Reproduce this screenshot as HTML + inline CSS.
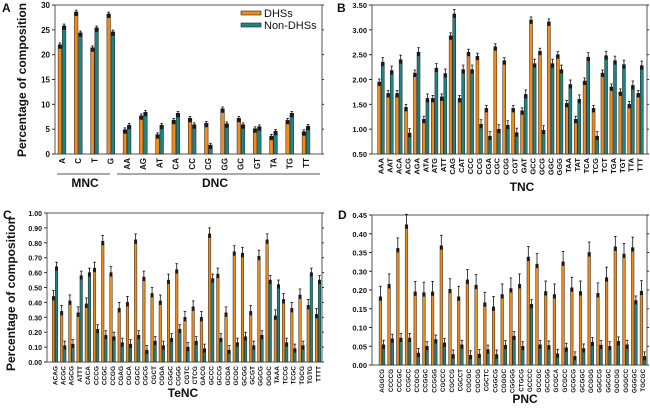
<!DOCTYPE html>
<html><head><meta charset="utf-8"><style>
html,body{margin:0;padding:0;background:#fff;}
svg{display:block;font-family:"Liberation Sans",Arial,sans-serif;}
</style></head><body>
<svg id="fig" width="650" height="412" viewBox="0 0 650 412" xmlns="http://www.w3.org/2000/svg"></svg>
<script>
// Panel A data
const catsA = ["A","C","T","G","AA","AG","AT","CA","CC","CG","GG","GC","GT","TA","TG","TT"];
const dhsA = [22,28.6,21.4,28.2,4.9,7.7,3.9,6.8,7.2,6.2,9.1,7.2,5.1,3.6,6.8,4.5];
const nonA = [25.8,24.4,25.4,24.6,5.8,8.4,5.8,8.2,5.9,1.8,6.1,5.9,5.5,4.6,8.2,5.6];
const ticksA = ["0","5","10","15","20","25","30"];
// Panel B data
const catsB = ["AAA","AAT","ACA","ACG","AGA","ATA","ATG","ATT","CAG","CAT","CCC","CCG","CGA","CGC","CGG","CGT","GAT","GCC","GCG","GGC","GGG","TAA","TAT","TCA","TCG","TCT","TGA","TGT","TTA","TTT"];
const dhsB = [1.95,1.72,1.72,1.44,2.13,1.20,1.62,1.65,2.88,1.62,2.55,2.47,1.42,2.66,2.38,1.42,1.37,3.20,2.57,3.16,2.50,1.52,1.20,1.97,1.42,2.13,1.85,1.75,1.50,1.72];
const nonB = [2.35,2.18,2.40,0.92,2.55,1.62,2.23,2.12,3.32,2.20,2.20,1.10,0.86,1.00,1.08,0.93,1.70,2.32,0.98,2.32,2.20,1.90,1.60,2.45,0.86,2.48,2.38,2.30,1.88,2.28];
const ticksB = ["0.50","1.00","1.50","2.00","2.50","3.00","3.50"];
// Panel C data
const catsC = ["ACAG","ACGC","AGCG","ATTT","CACA","CCCG","CCGC","CCGG","CGAG","CGCA","CGCC","CGCG","CGCT","CGGA","CGGC","CGGG","CGTC","CTCG","GACG","GCCC","GCCG","GCGA","GCGC","GCGG","GCGT","GGCG","GGGC","TAAA","TCCG","TCGC","TGCG","TGTG","TTTT"];
const dhsC = [.44,.34,.41,.33,.39,.63,.81,.60,.36,.40,.82,.57,.46,.41,.55,.62,.30,.37,.30,.86,.59,.33,.74,.73,.34,.71,.82,.31,.42,.36,.45,.38,.32];
const nonC = [.64,.11,.12,.58,.60,.22,.18,.17,.13,.12,.18,.08,.14,.11,.16,.22,.10,.14,.09,.56,.16,.08,.13,.17,.11,.18,.55,.52,.13,.09,.11,.60,.55];
const ticksC = ["0.00","0.10","0.20","0.30","0.40","0.50","0.60","0.70","0.80","0.90","1.00"];
// Panel D data (values in axis-position units: tick k at k*0.05)
const catsD = ["AGGCG","CCCCG","CCCGC","CCGCC","CCGCG","CCGGC","CCGGG","CGCCC","CGCCG","CGCCT","CGCGC","CGCGG","CGCTC","CGGCG","CGGGC","CGGGG","CTGCG","GCCCC","GCCGC","GCCGG","GCGCA","GCGCC","GCGCG","GCGGC","GCGGG","GGCCG","GGCGC","GGCGG","GGGCC","GGGGC","TGCGC"];
const dhsD = [.182,.215,.311,.374,.195,.193,.195,.318,.202,.182,.227,.213,.166,.155,.188,.204,.215,.288,.269,.196,.188,.275,.206,.196,.300,.191,.233,.315,.296,.313,.197];
const nonD = [.054,.070,.072,.072,.032,.050,.068,.059,.028,.054,.026,.029,.041,.028,.053,.077,.050,.162,.054,.052,.030,.046,.023,.044,.061,.053,.050,.063,.054,.172,.023];
const ticksD = ["0.00","0.05","0.10","0.15","0.20","0.30","0.35","0.40","0.45"];

const NS="http://www.w3.org/2000/svg";
const svg=document.getElementById('fig');
const OR="#f28a1c", TE="#1b8585";
function mk(tag,attrs,parent){const e=document.createElementNS(NS,tag);for(const k in attrs)e.setAttribute(k,attrs[k]);(parent||svg).appendChild(e);return e;}
function txt(s,attrs,parent){const e=mk('text',attrs,parent);e.textContent=s;return e;}

function panel(p){
  const g=mk('g',{});
  
  
  const y=v=>p.y1-(v-p.vmin)/(p.vmax-p.vmin)*(p.y1-p.y0);
  const n=p.cats.length;
  const step=(p.c1-p.c0)/(n-1);
  const x=i=>p.c0+i*step;
  const fr=mk('rect',{x:p.x0,y:p.y0,width:p.x1-p.x0,height:p.y1-p.y0,fill:'none',stroke:'#555','stroke-width':1},g);
  
  
  const ntk=p.ticks.length;
  p.ticks.forEach((t,k)=>{
    const v=p.vmin+k*(p.vmax-p.vmin)/(ntk-1);
    const yy=y(v);
    mk('line',{x1:p.x0-3,x2:p.x0,y1:yy,y2:yy,stroke:'#333'},g);
    mk('line',{x1:p.x1,x2:p.x1+2,y1:yy,y2:yy,stroke:'#333'},g);
    const tl=txt(t,{x:p.x0-5,y:yy+3,'font-size':p.tfs,'font-weight':'bold','text-anchor':'end',fill:'#111'},g);
    
    
  });
  const bw=p.bw;
  p.cats.forEach((c,i)=>{
    const cx=x(i);
    [[p.d1[i],OR,cx-bw-0.3,p.e1],[p.d2[i],TE,cx+0.3,p.e2]].forEach(([v,col,bx,e],j)=>{
      const yt=y(v);
      const r=mk('rect',{x:bx,y:yt,width:bw,height:p.y1-yt,fill:col,stroke:'#222','stroke-width':0.5},g);
      
      
      const ey=y(v+e*(p.vmax-p.vmin)), ex=bx+bw/2;
      mk('rect',{x:bx,y:yt,width:bw,height:Math.min(4,p.y1-yt),fill:'#1a1a1a'},g);
      mk('line',{x1:ex,x2:ex,y1:yt,y2:ey,stroke:'#111','stroke-width':0.8},g);
      mk('line',{x1:ex-1.3,x2:ex+1.3,y1:ey,y2:ey,stroke:'#111','stroke-width':0.8},g);
    });
    const lt=txt(c,{transform:`translate(${cx+p.lfs*0.35},${p.y1+4}) rotate(-90)`,'font-size':p.lfs,'font-weight':'bold','text-anchor':'end',fill:'#111'},g);
    
    
  });
  return g;
}

panel({name:'panel-a',cats:catsA,d1:dhsA,d2:nonA,ticks:ticksA,vmin:0,vmax:30,x0:55,x1:322,y0:5,y1:154,c0:62,c1:306,bw:3.6,lfs:8,tfs:8,e1:0.012,e2:0.012});
panel({name:'panel-b',cats:catsB,d1:dhsB,d2:nonB,ticks:ticksB,vmin:0.5,vmax:3.5,x0:372,x1:647,y0:5,y1:154,c0:381,c1:640,bw:3,lfs:7.5,tfs:7.5,e1:0.02,e2:0.03});
panel({name:'panel-c',cats:catsC,d1:dhsC,d2:nonC,ticks:ticksC,vmin:0,vmax:1,x0:47,x1:322,y0:213,y1:362,c0:55,c1:318,bw:2.5,lfs:6.5,tfs:7,e1:0.04,e2:0.03});
panel({name:'panel-d',cats:catsD,d1:dhsD,d2:nonD,ticks:ticksD,vmin:0,vmax:0.4,x0:372,x1:647,y0:215,y1:365,c0:382,c1:643,bw:2.6,lfs:6.3,tfs:7.5,e1:0.07,e2:0.03});

[["A",2,12],["B",337,12],["C",3,219],["D",338,219]].forEach(([s,xx,yy])=>{
  const t=txt(s,{x:xx,y:yy,'font-size':12,'font-weight':'bold',fill:'#111'});
  
  
});
let t;
t=txt('Percentage of composition',{transform:'translate(26,80) rotate(-90)','font-size':12,'font-weight':'bold','text-anchor':'middle',fill:'#111'});


t=txt('Percentage of composition',{transform:'translate(15,294) rotate(-90)','font-size':12,'font-weight':'bold','text-anchor':'middle',fill:'#111'});


t=txt('TNC',{x:522,y:191,'font-size':12,'font-weight':'bold','text-anchor':'middle',fill:'#111'});


t=txt('TeNC',{x:183,y:397,'font-size':12,'font-weight':'bold','text-anchor':'middle',fill:'#111'});


t=txt('PNC',{x:525,y:403,'font-size':12,'font-weight':'bold','text-anchor':'middle',fill:'#111'});


t=mk('line',{x1:57,x2:110,y1:174,y2:174,stroke:'#555','stroke-width':1});


t=mk('line',{x1:117,x2:320,y1:174,y2:174,stroke:'#555','stroke-width':1});


t=txt('MNC',{x:85,y:187,'font-size':12,'font-weight':'bold','text-anchor':'middle',fill:'#111'});


t=txt('DNC',{x:215,y:187,'font-size':12,'font-weight':'bold','text-anchor':'middle',fill:'#111'});


const lg=mk('g',{});


t=mk('rect',{x:241,y:11,width:20,height:4,fill:OR,stroke:'#222','stroke-width':0.6},lg);


t=txt('DHSs',{x:264,y:17,'font-size':11,fill:'#111'},lg);


t=mk('rect',{x:241,y:23,width:20,height:4,fill:TE,stroke:'#222','stroke-width':0.6},lg);


t=txt('Non-DHSs',{x:264,y:29,'font-size':11,fill:'#111'},lg);


</script>
</body></html>
